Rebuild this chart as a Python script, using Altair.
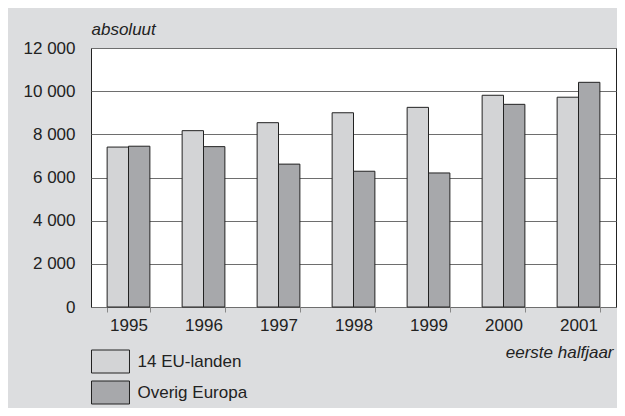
import altair as alt
import pandas as pd

years = ["1995", "1996", "1997", "1998", "1999", "2000", "2001"]
eu14 = [7410, 8170, 8540, 9000, 9250, 9810, 9720]
overig = [7450, 7430, 6620, 6290, 6210, 9390, 10410]
series = ["14 EU-landen", "Overig Europa"]
colors = ["#d3d4d6", "#a7a8ab"]

rows = []
for i, y in enumerate(years):
    rows.append({"jaar": y, "groep": series[0], "waarde": eu14[i]})
    rows.append({"jaar": y, "groep": series[1], "waarde": overig[i]})
df = pd.DataFrame(rows)

FONT = "Liberation Sans"
FS = 17

legend_path = "M-1.652,-1L1.652,-1L1.652,1L-1.652,1Z"

chart = alt.Chart(df).mark_bar(stroke="#222222", strokeWidth=1).encode(
    x=alt.X("jaar:N", sort=years,
            scale=alt.Scale(paddingInner=0.43, paddingOuter=0.215),
            axis=alt.Axis(title="eerste halfjaar", titleX=522, titleY=50,
                          titleAlign="right", titleBaseline="alphabetic",
                          titleFontStyle="italic", titleFontWeight="normal",
                          titleFont=FONT, titleFontSize=FS, titleColor="#222222",
                          labelAngle=0, labelFont=FONT, labelFontSize=FS,
                          labelColor="#222222", labelPadding=5,
                          ticks=True, tickBand="extent", tickSize=5,
                          tickColor="#888888", tickWidth=1,
                          domain=False, grid=False)),
    xOffset=alt.XOffset("groep:N", sort=series,
                        scale=alt.Scale(paddingInner=0, paddingOuter=0)),
    y=alt.Y("waarde:Q",
            scale=alt.Scale(domain=[0, 12000], nice=False),
            axis=alt.Axis(title="absoluut", titleAngle=0, titleX=0, titleY=-14,
                          titleAlign="left", titleBaseline="alphabetic",
                          titleFontStyle="italic", titleFontWeight="normal",
                          titleFont=FONT, titleFontSize=FS, titleColor="#222222",
                          values=[0, 2000, 4000, 6000, 8000, 10000, 12000],
                          labelExpr="replace(format(datum.value, ','), ',', ' ')",
                          labelFont=FONT, labelFontSize=FS, labelColor="#222222",
                          labelPadding=16, ticks=False, domain=False,
                          grid=True, gridColor="#6e6e6e", gridWidth=1.2)),
    fill=alt.Fill("groep:N", sort=series,
                  scale=alt.Scale(domain=series, range=colors),
                  legend=alt.Legend(title=None, orient="none", legendX=7.5, legendY=301.5,
                                    direction="vertical", symbolType=legend_path,
                                    symbolSize=529, symbolStrokeColor="#222222",
                                    symbolStrokeWidth=1, labelFont=FONT,
                                    labelFontSize=FS, labelColor="#222222",
                                    labelOffset=15, rowPadding=3, padding=0)),
).properties(
    width=525,
    height=259,
    autosize=alt.AutoSizeParams(type="none"),
    padding={"left": 83, "top": 40, "right": 1, "bottom": 101},
    background="#dcdddf",
).configure_view(
    fill="white", stroke="#222222", strokeWidth=1
)

chart.save("out.html", embed_options={"renderer": "svg", "actions": False})
